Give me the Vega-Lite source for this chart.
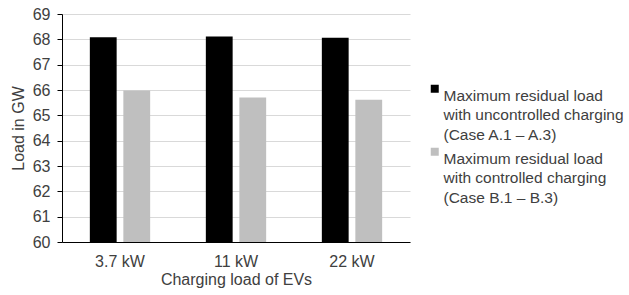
{
  "$schema": "https://vega.github.io/schema/vega-lite/v6.json",
  "width": 348,
  "height": 228,
  "autosize": {"type": "none"},
  "padding": {"left": 62, "top": 14, "right": 219, "bottom": 53},
  "background": "white",
  "config": {
    "view": {"stroke": null},
    "font": "Liberation Sans",
    "style": {"guide-label": {"lineHeight": 19.5}},
    "axis": {"labelFont": "Liberation Sans", "titleFont": "Liberation Sans", "titleFontWeight": "normal", "labelColor": "#404040", "titleColor": "#404040"}
  },
  "data": {
    "values": [
      {"load": "3.7 kW", "series": "Maximum residual load|with uncontrolled charging|(Case A.1 – A.3)", "value": 68.08},
      {"load": "3.7 kW", "series": "Maximum residual load|with controlled charging|(Case B.1 – B.3)", "value": 65.98},
      {"load": "11 kW", "series": "Maximum residual load|with uncontrolled charging|(Case A.1 – A.3)", "value": 68.11},
      {"load": "11 kW", "series": "Maximum residual load|with controlled charging|(Case B.1 – B.3)", "value": 65.70},
      {"load": "22 kW", "series": "Maximum residual load|with uncontrolled charging|(Case A.1 – A.3)", "value": 68.06},
      {"load": "22 kW", "series": "Maximum residual load|with controlled charging|(Case B.1 – B.3)", "value": 65.62}
    ]
  },
  "mark": {"type": "bar", "clip": true},
  "encoding": {
    "x": {
      "field": "load", "type": "nominal", "sort": ["3.7 kW", "11 kW", "22 kW"],
      "scale": {"paddingInner": 0.48, "paddingOuter": 0.24},
      "axis": {"title": "Charging load of EVs", "labelAngle": 0, "labelFontSize": 16, "titleFontSize": 16, "ticks": false, "domainColor": "#000000", "labelPadding": 11, "titlePadding": 2}
    },
    "xOffset": {
      "field": "series", "type": "nominal",
      "sort": ["Maximum residual load|with uncontrolled charging|(Case A.1 – A.3)", "Maximum residual load|with controlled charging|(Case B.1 – B.3)"],
      "scale": {"paddingInner": 0.2}
    },
    "y": {
      "field": "value", "type": "quantitative",
      "scale": {"domain": [60, 69], "zero": false, "nice": false},
      "axis": {"title": "Load in GW", "values": [60,61,62,63,64,65,66,67,68,69], "labelOverlap": false, "labelFontSize": 16, "titleFontSize": 16, "gridColor": "#d9d9d9", "domainColor": "#000000", "tickColor": "#000000", "tickSize": 5, "labelPadding": 7, "titlePadding": 6}
    },
    "color": {
      "field": "series", "type": "nominal",
      "sort": ["Maximum residual load|with uncontrolled charging|(Case A.1 – A.3)", "Maximum residual load|with controlled charging|(Case B.1 – B.3)"],
      "scale": {"range": ["#000000", "#bfbfbf"]},
      "legend": {
        "title": null, "orient": "none", "legendX": 365, "legendY": 67,
        "symbolType": "square", "symbolSize": 64, "symbolStrokeWidth": 0,
        "labelExpr": "split(datum.label, '|')",
        "labelFontSize": 15.5, "labelColor": "#404040", "labelBaseline": "top", "labelLimit": 300,
        "labelOffset": 1, "rowPadding": 0
      }
    }
  }
}
